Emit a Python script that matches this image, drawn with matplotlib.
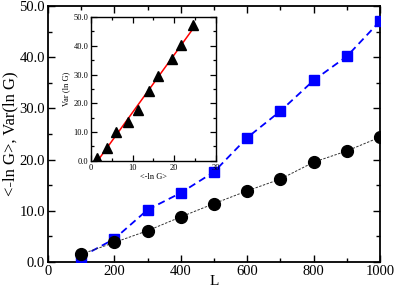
import numpy as np
import matplotlib
matplotlib.use("Agg")
import matplotlib.pyplot as plt
from matplotlib.ticker import MultipleLocator, FormatStrFormatter

plt.rcParams['font.family'] = ['Liberation Serif', 'DejaVu Serif']

# System size
L = [100, 200, 300, 400, 500, 600, 700, 800, 900, 1000]
# <-ln G> (black circles)
mean_lnG = [1.5, 3.8, 6.1, 8.8, 11.4, 13.9, 16.2, 19.5, 21.7, 24.4]
# Var(ln G) (blue squares)
var_lnG = [1.0, 4.5, 10.2, 13.5, 17.6, 24.3, 29.5, 35.5, 40.2, 47.1]

fig = plt.figure(figsize=(3.96, 2.92), dpi=100)
ax = fig.add_axes([0.121, 0.103, 0.839, 0.876])

ax.plot(L, var_lnG, color='blue', ls=(0, (4, 2.5)), lw=1.3,
        marker='s', ms=7, zorder=3)
ax.plot(L, mean_lnG, color='#333333', ls=(0, (2.5, 1.5)), lw=0.7,
        marker='o', ms=8.5, mfc='black', mec='black', zorder=3)

ax.set_xlim(0, 1000)
ax.set_ylim(0, 50)
ax.xaxis.set_major_locator(MultipleLocator(200))
ax.xaxis.set_minor_locator(MultipleLocator(100))
ax.yaxis.set_major_locator(MultipleLocator(10))
ax.yaxis.set_minor_locator(MultipleLocator(5))
ax.yaxis.set_major_formatter(FormatStrFormatter('%.1f'))
ax.tick_params(which='both', direction='in', top=True, right=True,
               width=1, labelsize=10.5, pad=2)
ax.tick_params(which='major', length=5)
ax.tick_params(which='minor', length=3)
for s in ax.spines.values():
    s.set_linewidth(1.3)
ax.set_xlabel('L', fontsize=11, labelpad=-2)
ax.set_ylabel('<-ln G>, Var(ln G)', fontsize=12, labelpad=1)

# inset: Var(ln G) vs <-ln G>
ins = fig.add_axes([0.230, 0.449, 0.315, 0.493])
ins.plot(mean_lnG, var_lnG, ls='none', marker='^', color='black', ms=7.5, zorder=3)
k, b = np.polyfit(mean_lnG, var_lnG, 1)
xf = np.array([-b / k, max(mean_lnG)])
ins.plot(xf, k * xf + b, color='red', lw=1.1, zorder=2)
ins.set_xlim(0, 30)
ins.set_ylim(0, 50)
ins.xaxis.set_major_locator(MultipleLocator(10))
ins.xaxis.set_minor_locator(MultipleLocator(5))
ins.yaxis.set_major_locator(MultipleLocator(10))
ins.yaxis.set_minor_locator(MultipleLocator(5))
ins.yaxis.set_major_formatter(FormatStrFormatter('%.1f'))
ins.tick_params(which='both', direction='in', top=True, right=True,
                width=0.9, labelsize=6, pad=2)
ins.tick_params(which='major', length=4)
ins.tick_params(which='minor', length=2.5)
for s in ins.spines.values():
    s.set_linewidth(1.0)
ins.set_xlabel('<-ln G>', fontsize=6, labelpad=1)
ins.set_ylabel('Var (ln G)', fontsize=6, labelpad=2)

fig.savefig('out.png', dpi=100)
